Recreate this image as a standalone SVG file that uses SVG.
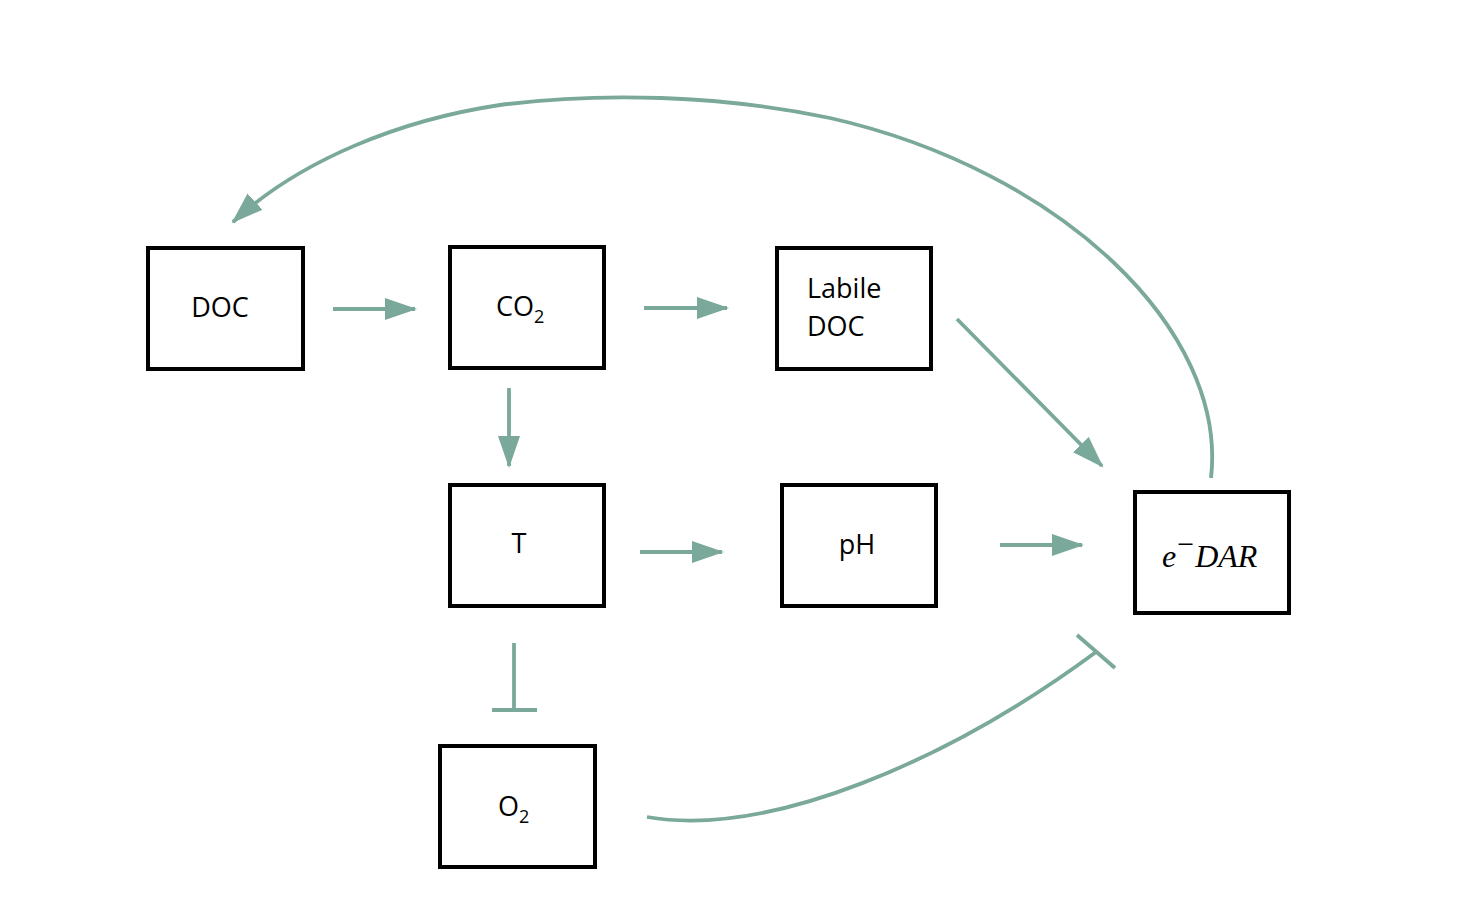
<svg xmlns="http://www.w3.org/2000/svg" width="1458" height="918" viewBox="0 0 1458 918">
<style>
.box{fill:#fff;stroke:#000;stroke-width:4}
.lbl{font-family:"Open Sans","Noto Sans","Liberation Sans",sans-serif;font-size:27px;fill:#000}
.con{fill:none;stroke:#7aa89b;stroke-width:3.8}
.math{font-family:"Liberation Serif","DejaVu Serif",serif;font-style:italic;font-size:32px;fill:#000}
</style>
<defs>
<marker id="ah" markerUnits="userSpaceOnUse" markerWidth="33" markerHeight="23" refX="30" refY="11" orient="auto" viewBox="0 0 33 22">
<path d="M0,0 L32,11 L0,22 z" fill="#7aa89b"/>
</marker>
</defs>
<rect width="1458" height="918" fill="#fff"/>
<g id="connectors">
<line class="con" x1="333" y1="309" x2="415" y2="309" marker-end="url(#ah)"/>
<line class="con" x1="644" y1="308" x2="727" y2="308" marker-end="url(#ah)"/>
<line class="con" x1="509" y1="388" x2="509" y2="466" marker-end="url(#ah)"/>
<line class="con" x1="640" y1="552" x2="722" y2="552" marker-end="url(#ah)"/>
<line class="con" x1="1000" y1="545" x2="1082" y2="545" marker-end="url(#ah)"/>
<line class="con" x1="957" y1="319" x2="1102" y2="466" marker-end="url(#ah)"/>
<path class="con" d="M1211,478 C1228,330 1060,170 830,118 C720,95 600,92 500,105 C400,120 300,160 233,222" marker-end="url(#ah)"/>
<line class="con" x1="514" y1="643" x2="514" y2="710"/>
<line class="con" x1="492" y1="710" x2="537" y2="710"/>
<path class="con" d="M647,817 C770,838 950,760 1096,652"/>
<line class="con" x1="1077" y1="635" x2="1115" y2="668"/>
</g>
<g id="node-doc">
<rect class="box" x="148" y="248" width="155" height="121"/>
<text class="lbl" x="220" y="317" text-anchor="middle">DOC</text>
</g>
<g id="node-co2">
<rect class="box" x="450" y="247" width="154" height="121"/>
<text class="lbl" x="496" y="316">CO<tspan font-size="18" dy="7">2</tspan></text>
</g>
<g id="node-labile-doc">
<rect class="box" x="777" y="248" width="154" height="121"/>
<text class="lbl" x="807" y="298">Labile</text>
<text class="lbl" x="807" y="336">DOC</text>
</g>
<g id="node-t">
<rect class="box" x="450" y="485" width="154" height="121"/>
<text class="lbl" x="519" y="553" text-anchor="middle">T</text>
</g>
<g id="node-ph">
<rect class="box" x="782" y="485" width="154" height="121"/>
<text class="lbl" x="857" y="554" text-anchor="middle">pH</text>
</g>
<g id="node-edar">
<rect class="box" x="1135" y="492" width="154" height="121"/>
<text class="math" x="1162" y="567">e<tspan font-style="normal" font-size="30" dy="-13" dx="1">−</tspan><tspan dy="13" dx="1">DAR</tspan></text>
</g>
<g id="node-o2">
<rect class="box" x="440" y="746" width="155" height="121"/>
<text class="lbl" x="498" y="816">O<tspan font-size="18" dy="7">2</tspan></text>
</g>
</svg>
